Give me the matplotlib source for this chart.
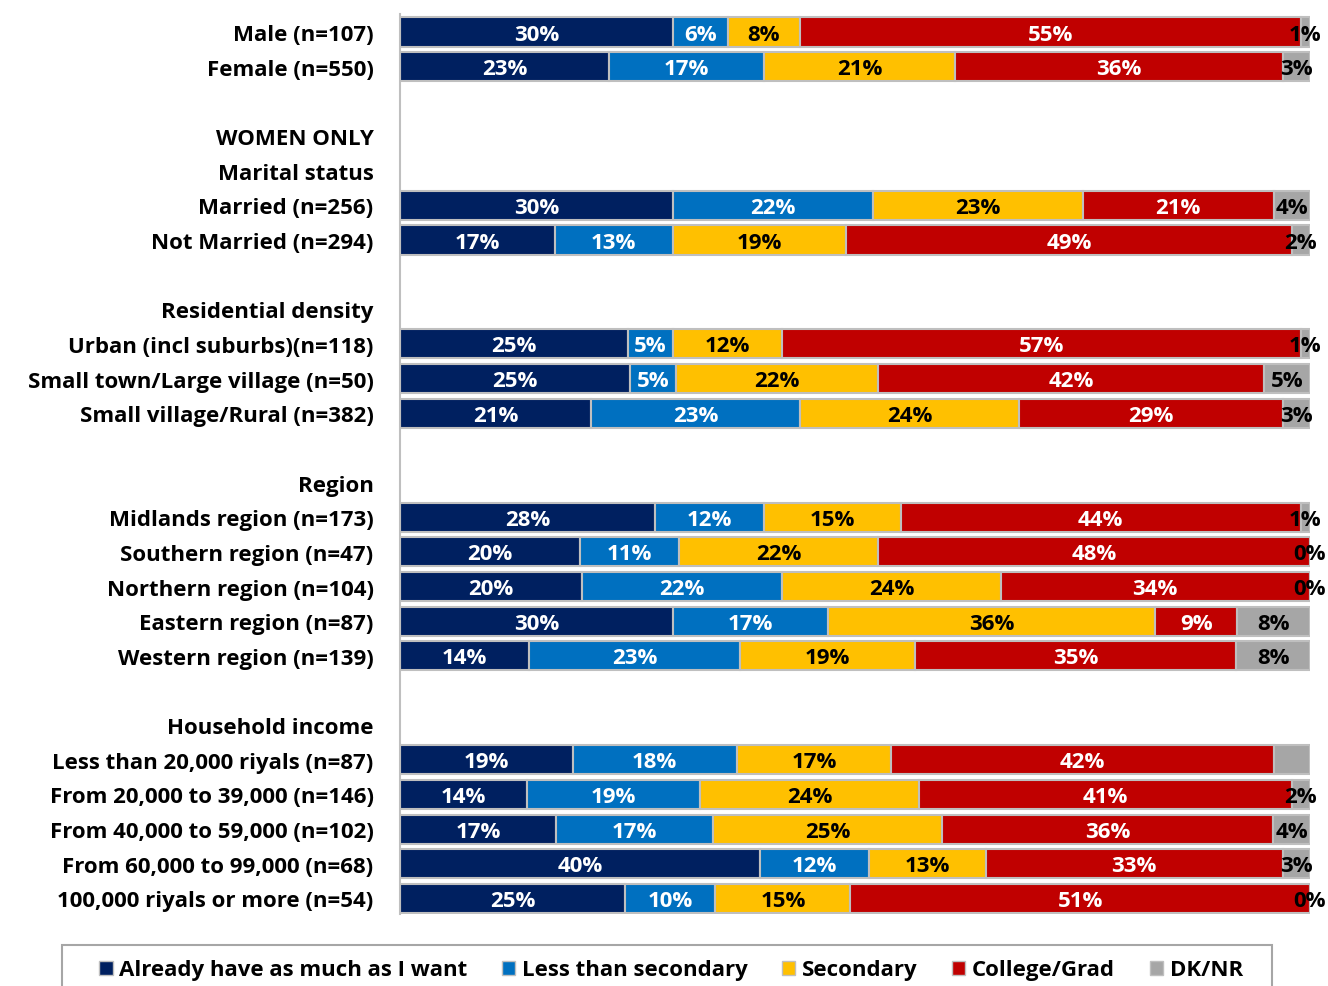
import matplotlib
matplotlib.use("Agg")
import matplotlib.pyplot as plt
from matplotlib.patches import Patch, Rectangle
import numpy as np

# Row labels (top to bottom); headers have no data, "" rows are blank spacers
rows = ["Male (n=107)", "Female (n=550)", "",
        "WOMEN ONLY", "Marital status", "Married (n=256)", "Not Married (n=294)", "",
        "Residential density", "Urban (incl suburbs)(n=118)", "Small town/Large village (n=50)",
        "Small village/Rural (n=382)", "",
        "Region", "Midlands region (n=173)", "Southern region (n=47)", "Northern region (n=104)",
        "Eastern region (n=87)", "Western region (n=139)", "",
        "Household income", "Less than 20,000 riyals (n=87)", "From 20,000 to 39,000 (n=146)",
        "From 40,000 to 59,000 (n=102)", "From 60,000 to 99,000 (n=68)", "100,000 riyals or more (n=54)"]

data_rows = ["Male (n=107)", "Female (n=550)", "Married (n=256)", "Not Married (n=294)",
             "Urban (incl suburbs)(n=118)", "Small town/Large village (n=50)", "Small village/Rural (n=382)",
             "Midlands region (n=173)", "Southern region (n=47)", "Northern region (n=104)",
             "Eastern region (n=87)", "Western region (n=139)",
             "Less than 20,000 riyals (n=87)", "From 20,000 to 39,000 (n=146)",
             "From 40,000 to 59,000 (n=102)", "From 60,000 to 99,000 (n=68)", "100,000 riyals or more (n=54)"]

series = ["Already have as much as I want", "Less than secondary", "Secondary", "College/Grad", "DK/NR"]
already = [30, 23, 30, 17, 25, 25, 21, 28, 20, 20, 30, 14, 19, 14, 17, 40, 25]
less_sec = [6, 17, 22, 13, 5, 5, 23, 12, 11, 22, 17, 23, 18, 19, 17, 12, 10]
secondary = [8, 21, 23, 19, 12, 22, 24, 15, 22, 24, 36, 19, 17, 24, 25, 13, 15]
college = [55, 36, 21, 49, 57, 42, 29, 44, 48, 34, 9, 35, 42, 41, 36, 33, 51]
dknr = [1, 3, 4, 2, 1, 5, 3, 1, 0, 0, 8, 8, 4, 2, 4, 3, 0]
hidden_label = {("Less than 20,000 riyals (n=87)", 4)}  # DK/NR label not shown in source

colors = ["#002060", "#0070C0", "#FFC000", "#C00000", "#A6A6A6"]
text_colors = ["white", "white", "black", "white", "black"]

FS = 16
plt.rcParams['font.family'] = ['Open Sans', 'DejaVu Sans']
fig = plt.figure(figsize=(13.28, 9.87), dpi=100)
ax = fig.add_axes([400/1328, 1-915/987, 910/1328, 900/987])

vals = np.array([already, less_sec, secondary, college, dknr], dtype=float)
totals = vals.sum(axis=0)
widths = vals / totals * 100

ypos = [rows.index(r) for r in data_rows]
left = np.zeros(len(data_rows))
for k in range(5):
    ax.barh(ypos, widths[k], left=left, height=0.84, color=colors[k],
            edgecolor="#BFBFBF", linewidth=1.5)
    for i, r in enumerate(data_rows):
        if (r, k) in hidden_label:
            continue
        ax.text(left[i] + widths[k][i] / 2, ypos[i] + 0.06, f"{int(vals[k][i])}%",
                ha="center", va="center", color=text_colors[k if widths[k][i] > 3 else 4],
                fontsize=FS, fontweight="bold")
    left += widths[k]

ax.set_yticks(range(len(rows)))
ax.set_yticklabels(rows, fontsize=FS, fontweight="bold")
ax.set_ylim(25.45, -0.52)
ax.set_xlim(0, 100)
ax.tick_params(axis="y", length=0, pad=19)
ax.set_xticks([])
for s in ["top", "right", "bottom"]:
    ax.spines[s].set_visible(False)
ax.spines["left"].set_color("#BFBFBF")
ax.spines["left"].set_linewidth(1.5)

# Legend
fig.patches.append(Rectangle((62/1328, -0.05), (1272-62)/1328, 0.05 + 1 - 946/987,
                             transform=fig.transFigure, fill=False, edgecolor="#A6A6A6",
                             linewidth=1.5))
handles = [Patch(facecolor=c, edgecolor="#BFBFBF", linewidth=1) for c in colors]
fig.legend(handles, series, loc="center", bbox_to_anchor=(671/1328, 1 - 971/987),
           ncol=5, frameon=False, handlelength=0.6, handleheight=0.6, handletextpad=0.3,
           columnspacing=1.55, prop={"size": FS, "weight": "bold"})

fig.savefig("out.png", dpi=100)
